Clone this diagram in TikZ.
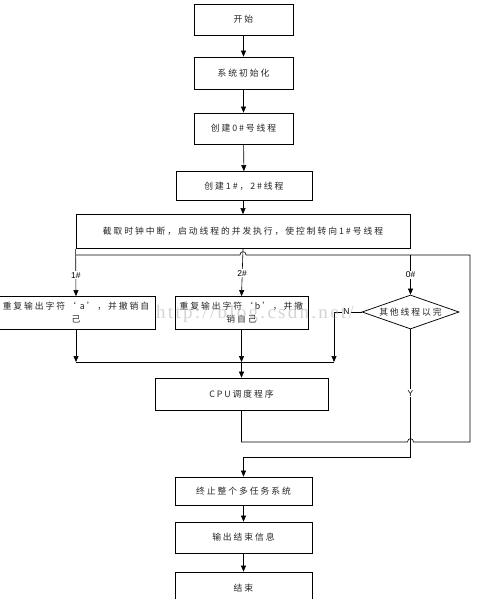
\documentclass[tikz,border=0pt]{standalone}
\usepackage{fontspec}
\setmainfont{Noto Sans CJK SC}[LetterSpace=22]
\newfontfamily\lblfont{Liberation Sans}
\newfontfamily\wmfont{Liberation Serif}[LetterSpace=12]
\usetikzlibrary{arrows.meta,shapes.geometric}
\begin{document}
\begin{tikzpicture}[x=1pt,y=-1pt,
  box/.style={draw, line width=0.75pt, inner sep=0pt, align=center,
    font=\fontsize{8.8}{13}\selectfont, text=black!85},
  dec/.style={draw, line width=0.75pt, diamond, aspect=2.85, inner sep=0pt,
    minimum width=97, minimum height=34, font=\fontsize{8.8}{11}\selectfont, text=black!85},
  arr/.style={line width=0.6pt, -{Triangle[length=6pt,width=5pt]}},
  ln/.style={line width=0.6pt},
  lbl/.style={fill=white, inner sep=1pt, font=\lblfont\fontsize{8.5}{9}\selectfont}
]
\useasboundingbox (0,0) rectangle (484,599);
\fill[white] (0,0) rectangle (484,599);

\node[box, minimum width=99, minimum height=31] (start) at (243.5,19.5) {开始};
\node[box, minimum width=99, minimum height=32] (init) at (243.5,73) {系统初始化};
\node[box, minimum width=99, minimum height=31] (c0) at (243.5,128.5) {创建0\#号线程};
\node[box, minimum width=136, minimum height=29] (c12) at (244,186) {创建1\#，2\#线程};
\node[box, minimum width=334, minimum height=34] (big) at (243,231.5) {截取时钟中断，启动线程的并发执行，使控制转向1\#号线程};
\node[box, minimum width=158, minimum height=33] (t1) at (76,313) {重复输出字符‘ a’，并撤销自\\己};
\node[box, minimum width=133, minimum height=33] (t2) at (241.5,313) {重复输出字符‘b’，并撤\\销自己};
\node[dec] (dia) at (410.5,312) {其他线程以完};
\node[box, minimum width=173, minimum height=32] (cpu) at (241.5,394) {CPU调度程序};
\node[box, minimum width=137, minimum height=28] (term) at (243.5,491) {终止整个多任务系统};
\node[box, minimum width=137, minimum height=31] (out) at (243.5,537.5) {输出结束信息};
\node[box, minimum width=137, minimum height=32] (endn) at (243.5,588) {结束};

\coordinate (jl) at (76,255);
\coordinate (j0) at (410.5,255);
\coordinate (jr) at (470,255);
\coordinate (br) at (470,442);
\coordinate (bl) at (241.5,442);
\coordinate (m1) at (76,362);
\coordinate (m2) at (241.5,362);
\coordinate (m3) at (334,362);
\coordinate (nc) at (334,312);
\coordinate (yb) at (410.5,457);
\coordinate (ym) at (243.5,457);

\draw[arr] (start) -- (init);
\draw[arr] (init) -- (c0);
\draw[arr] (c0) -- (c12);
\draw[arr] (c12.south -| big.north) -- (big.north);
\draw[arr] (big.south) -- node[lbl, pos=0.52]{2\#} (t2.north);
\draw[arr] (big.south west) -- node[lbl, pos=0.56]{1\#} (t1.north);
\draw[arr] (j0) -- node[lbl, pos=0.5]{0\#} (dia.north);
\draw[ln] (cpu.south) -- (bl) -- (407.5,442) .. controls (407.5,437.5) and (413.5,437.5) .. (413.5,442) -- (br) -- (jr) -- (246,255) .. controls (246,250.5) and (240,250.5) .. (240,255) -- (jl);
\draw[arr] (t1.south) -- (m1);
\draw[arr] (t2.south) -- (m2);
\draw[ln] (m1) -- (m3);
\draw[arr] (dia.west) -- node[lbl, pos=0.55]{N} (nc) -- (m3);
\draw[arr] (m2) -- (cpu.north);
\draw[arr] (dia.south) -- node[lbl, pos=0.5]{Y} (yb) -- (ym) -- (term.north);
\draw[arr] (term) -- (out);
\draw[arr] (out) -- (endn);

\node[text=black!30, opacity=0.55, font=\wmfont\fontsize{19}{20}\selectfont, inner sep=0pt] (wm) at (255,314) {http://blog.csdn.net/};
\end{tikzpicture}
\end{document}
